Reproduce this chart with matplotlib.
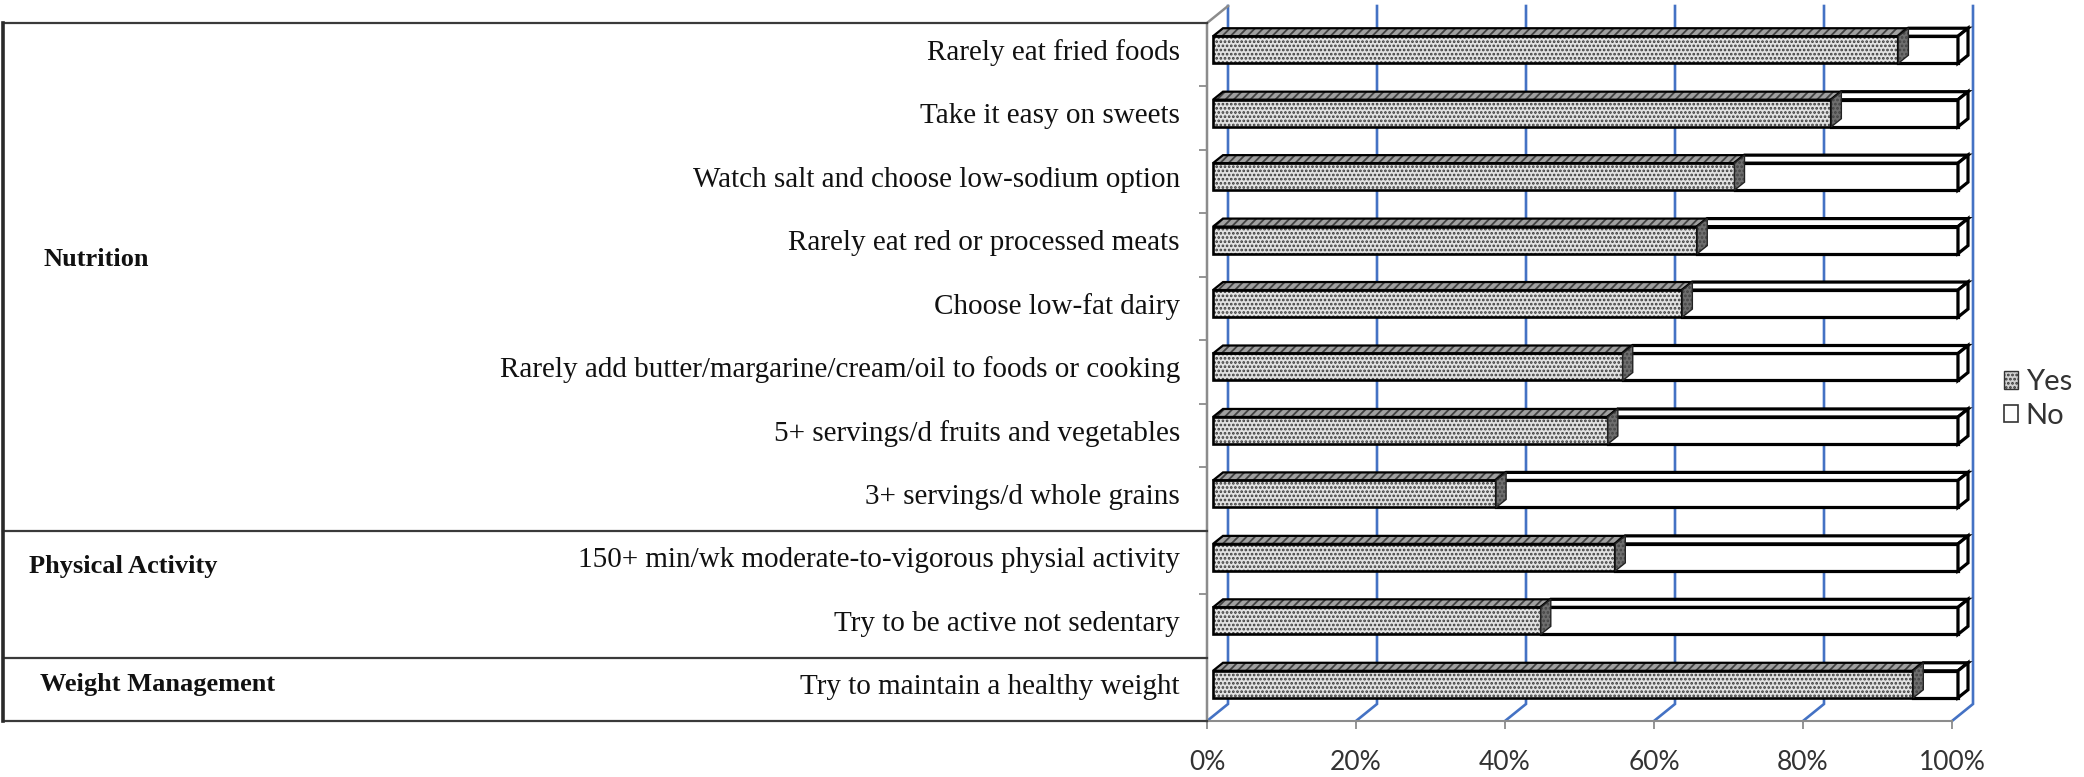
import matplotlib
matplotlib.use("Agg")
import matplotlib.pyplot as plt
from matplotlib.patches import Polygon, Patch
from matplotlib.transforms import ScaledTranslation

# ---------------- data ----------------
categories = [
    "Rarely eat fried foods",
    "Take it easy on sweets",
    "Watch salt and choose low-sodium option",
    "Rarely eat red or processed meats",
    "Choose low-fat dairy",
    "Rarely add butter/margarine/cream/oil to foods or cooking",
    "5+ servings/d fruits and vegetables",
    "3+ servings/d whole grains",
    "150+ min/wk moderate-to-vigorous physial activity",
    "Try to be active not sedentary",
    "Try to maintain a healthy weight",
]
yes_pct = [92, 83, 70, 65, 63, 55, 53, 38, 54, 44, 94]
no_pct = [8, 17, 30, 35, 37, 45, 47, 62, 46, 56, 6]
groups = ["Nutrition", "Physical Activity", "Weight Management"]
group_sizes = [8, 2, 1]
x_ticks = [0, 20, 40, 60, 80, 100]
x_tick_labels = ["0%", "20%", "40%", "60%", "80%", "100%"]
legend_labels = ["Yes", "No"]

# ---------------- layout (pixels) ----------------
W, H, DPI = 2084, 777, 100
AX_L, AX_R, AX_T, AX_B = 1207, 1952, 23, 721
SERIF = ["Liberation Serif", "DejaVu Serif"]
SANS = ["Lato", "DejaVu Sans"]
plt.rcParams["hatch.linewidth"] = 1.3

fig = plt.figure(figsize=(W / DPI, H / DPI), dpi=DPI)
ax = fig.add_axes([AX_L / W, 1 - AX_B / H, (AX_R - AX_L) / W, (AX_B - AX_T) / H])
n = len(categories)
ax.set_xlim(0, 100)
ax.set_ylim(n, 0)
for s in ax.spines.values():
    s.set_visible(False)
ax.patch.set_alpha(0)

PX = 100.0 / (AX_R - AX_L)   # data units per pixel (x)
PY = n / float(AX_B - AX_T)  # data units per pixel (y, downwards)

# 3D geometry in pixels
WALL_DX, WALL_DY = 21, 17
BAR_SHIFT_X, BAR_SHIFT_Y = 6, 5
BAR_DX, BAR_DY = 10, 8
BAR_HALF = 13.5

BLUE = "#4472c4"
GRAY = "#8c8c8c"

# back wall gridlines + floor diagonals
for v in x_ticks:
    xb = v + WALL_DX * PX
    ax.plot([xb, xb, v], [-WALL_DY * PY, n - WALL_DY * PY, n],
            color=BLUE, lw=1.9, zorder=1, clip_on=False, solid_joinstyle="miter")

# left wall / floor front
ax.plot([WALL_DX * PX, 0, 0], [-WALL_DY * PY, 0, n], color=GRAY, lw=1.8, zorder=1, clip_on=False)
ax.plot([0, 100], [n, n], color=GRAY, lw=1.5, zorder=1, clip_on=False)

# bars
dx, dy = BAR_DX * PX, BAR_DY * PY
xs = BAR_SHIFT_X * PX
yc = [i + 0.5 - BAR_SHIFT_Y * PY for i in range(n)]
h = 2 * BAR_HALF * PY

yes_col, yes_top_col, yes_end_col = "#e2e2e2", "#a0a0a0", "#6e6e6e"
ax.barh(yc, yes_pct, left=xs, height=h, color=yes_col, hatch="....",
        edgecolor="#3a3a3a", lw=0, zorder=3, clip_on=False)
ax.barh(yc, yes_pct, left=xs, height=h, fill=False, edgecolor="black", lw=1.9,
        zorder=3.2, clip_on=False)
no_left = [xs + y for y in yes_pct]
ax.barh(yc, no_pct, left=no_left, height=h, color="white", edgecolor="black", lw=2.3,
        zorder=4, clip_on=False)


def top_face(x0, x1, y):
    t = y - h / 2
    return [(x0, t), (x1, t), (x1 + dx, t - dy), (x0 + dx, t - dy)]


def right_face(x1, y):
    t, b = y - h / 2, y + h / 2
    return [(x1, t), (x1 + dx, t - dy), (x1 + dx, b - dy), (x1, b)]


for i in range(n):
    x0 = xs
    x1 = xs + yes_pct[i]
    x2 = x1 + no_pct[i]
    ax.add_patch(Polygon(top_face(x0, x1, yc[i]), closed=True, facecolor=yes_top_col,
                         hatch="////", edgecolor="#404040", lw=0, zorder=3.1, clip_on=False))
    ax.add_patch(Polygon(top_face(x0, x1, yc[i]), closed=True, fill=False,
                         edgecolor="black", lw=1.6, zorder=3.2, clip_on=False))
    ax.add_patch(Polygon(top_face(x1, x2, yc[i]), closed=True, facecolor="white",
                         edgecolor="black", lw=2.3, zorder=4.1, clip_on=False))
    ax.add_patch(Polygon(right_face(x2, yc[i]), closed=True, facecolor="white",
                         edgecolor="black", lw=2.3, zorder=4.1, clip_on=False))
    ax.add_patch(Polygon(right_face(x1, yc[i]), closed=True, facecolor=yes_end_col,
                         hatch="....", edgecolor="#444444", lw=0, zorder=4.5, clip_on=False))
    ax.add_patch(Polygon(right_face(x1, yc[i]), closed=True, fill=False,
                         edgecolor="#222222", lw=1.0, zorder=4.6, clip_on=False))

# y labels
ax.set_yticks([i + 0.5 for i in range(n)])
ax.set_yticklabels(categories, fontsize=21, family=SERIF, color="#111111")
ax.tick_params(axis="y", which="major", length=0, pad=19.5)
shift = ScaledTranslation(0, BAR_SHIFT_Y / DPI, fig.dpi_scale_trans)
for lab in ax.get_yticklabels():
    lab.set_transform(lab.get_transform() + shift)
ax.set_yticks(list(range(n + 1)), minor=True)
ax.tick_params(axis="y", which="minor", length=6, width=1.3, color=GRAY, left=True)

# x labels
ax.set_xticks(x_ticks)
ax.set_xticklabels(x_tick_labels, fontsize=19, family=SANS, color="#333333")
ax.tick_params(axis="x", length=6, width=1.3, color=GRAY, pad=15)

# group table
TL = (3 - AX_L) * PX
bounds = [0]
for g in group_sizes:
    bounds.append(bounds[-1] + g)
for b in bounds:
    ax.plot([TL, 0], [b, b], color="#3a3a3a", lw=1.6, clip_on=False, zorder=2)
ax.plot([TL, TL], [0, n], color="#2a2a2a", lw=2.6, clip_on=False, zorder=2)

group_label_px = [(44, 259), (29, 567), (40, 684)]
for g, (gx, gy) in zip(groups, group_label_px):
    ax.text((gx - AX_L) * PX, (gy - AX_T) * PY, g, fontsize=19, fontweight="bold",
            family=SERIF, ha="left", va="center", clip_on=False, color="#111111")

# legend
handles = [Patch(facecolor="#d0d0d0", hatch="....", edgecolor="#333333", lw=1.0),
           Patch(facecolor="white", edgecolor="#333333", lw=1.2)]
fig.legend(handles, legend_labels, loc="center left", bbox_to_anchor=(1998 / W, 1 - 399 / H),
           frameon=False, prop={"family": SANS, "size": 21}, handlelength=0.5,
           handleheight=0.55, handletextpad=0.25, labelspacing=0.25, labelcolor="#333333",
           borderpad=0.2, borderaxespad=0)

fig.savefig("out.png", dpi=DPI, facecolor="white")
